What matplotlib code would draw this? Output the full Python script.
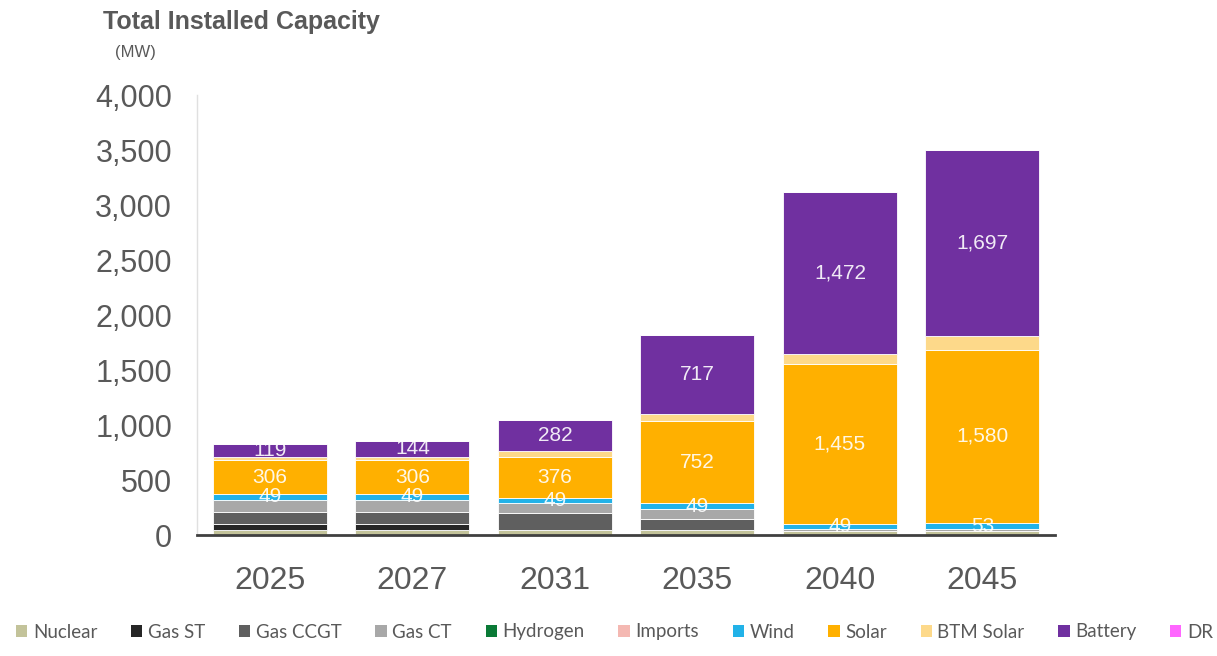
"""Total installed capacity stacked bars by resource."""

import numpy as np
import matplotlib
matplotlib.use("Agg")
import matplotlib.pyplot as plt
from matplotlib.patches import Patch

plt.rcParams["font.family"] = ["Liberation Sans", "DejaVu Sans"]

years = ["2025", "2027", "2031", "2035", "2040", "2045"]

# MW by resource (bottom to top)
nuclear = [50, 50, 50, 50, 40, 40]
gas_st = [55, 55, 0, 0, 0, 0]
gas_ccgt = [110, 110, 150, 100, 0, 0]
gas_ct = [110, 110, 90, 90, 15, 15]
hydrogen = [0, 0, 0, 0, 0, 0]
imports = [0, 0, 0, 0, 0, 0]
wind = [49, 49, 49, 49, 49, 53]
solar = [306, 306, 376, 752, 1455, 1580]
btm_solar = [30, 35, 50, 60, 90, 120]
battery = [119, 144, 282, 717, 1472, 1697]
dr = [0, 0, 0, 0, 0, 0]

series = [
    ("Nuclear", nuclear, "#c3c39a"),
    ("Gas ST", gas_st, "#262626"),
    ("Gas CCGT", gas_ccgt, "#5f5f5f"),
    ("Gas CT", gas_ct, "#a8a8a8"),
    ("Hydrogen", hydrogen, "#0a7a36"),
    ("Imports", imports, "#f4b8b2"),
    ("Wind", wind, "#22b2e8"),
    ("Solar", solar, "#ffb000"),
    ("BTM Solar", btm_solar, "#fdd98a"),
    ("Battery", battery, "#7030a0"),
    ("DR", dr, "#ff66ff"),
]
labelled = {"Wind", "Solar", "Battery"}

fig = plt.figure(figsize=(12.17, 6.56), dpi=100)
ax = fig.add_axes([0.162, 0.184, 0.705, 0.671])

x = np.arange(len(years))
bottom = np.zeros(len(years))
for name, vals, color in series:
    vals = np.array(vals, dtype=float)
    ax.bar(x, vals, width=0.8, bottom=bottom, color=color,
           edgecolor="white", linewidth=0.6)
    if name in labelled:
        for xi, b, v in zip(x, bottom, vals):
            ax.text(xi, b + v / 2, f"{int(v):,}", ha="center", va="center",
                    color="white", fontsize=15, alpha=0.9)
    bottom += vals

ax.set_xlim(-0.51, 5.51)
ax.set_ylim(0, 4000)
ax.set_yticks(np.arange(0, 4001, 500))
ax.set_yticklabels([f"{v:,}" for v in range(0, 4001, 500)])
ax.set_xticks(x)
ax.set_xticklabels(years)
ax.tick_params(axis="y", length=0, pad=18, labelsize=22, labelcolor="#595959")
ax.tick_params(axis="x", length=0, pad=22, labelsize=23, labelcolor="#595959")

for s in ["top", "right"]:
    ax.spines[s].set_visible(False)
ax.spines["left"].set_color("#e0e0e0")
ax.spines["left"].set_linewidth(1.0)
ax.spines["bottom"].set_color("#404040")
ax.spines["bottom"].set_linewidth(2.0)

fig.text(103 / 1217, 1 - 22 / 656, "Total Installed Capacity", fontsize=18,
         fontweight="bold", color="#595959", ha="left", va="center")
fig.text(115 / 1217, 1 - 52 / 656, "(MW)", fontsize=12, color="#595959",
         ha="left", va="center")

handles = [Patch(facecolor=c, edgecolor="none", label=n) for n, _, c in series]
fig.legend(handles=handles, loc="center", bbox_to_anchor=(0.505, 1 - 632 / 656),
           ncol=len(series), frameon=False, handlelength=0.6, handleheight=0.6,
           handletextpad=0.3, columnspacing=1.8,
           prop={"family": "Lato", "size": 13.5}, labelcolor="#595959")

fig.savefig("out.png", dpi=100)
